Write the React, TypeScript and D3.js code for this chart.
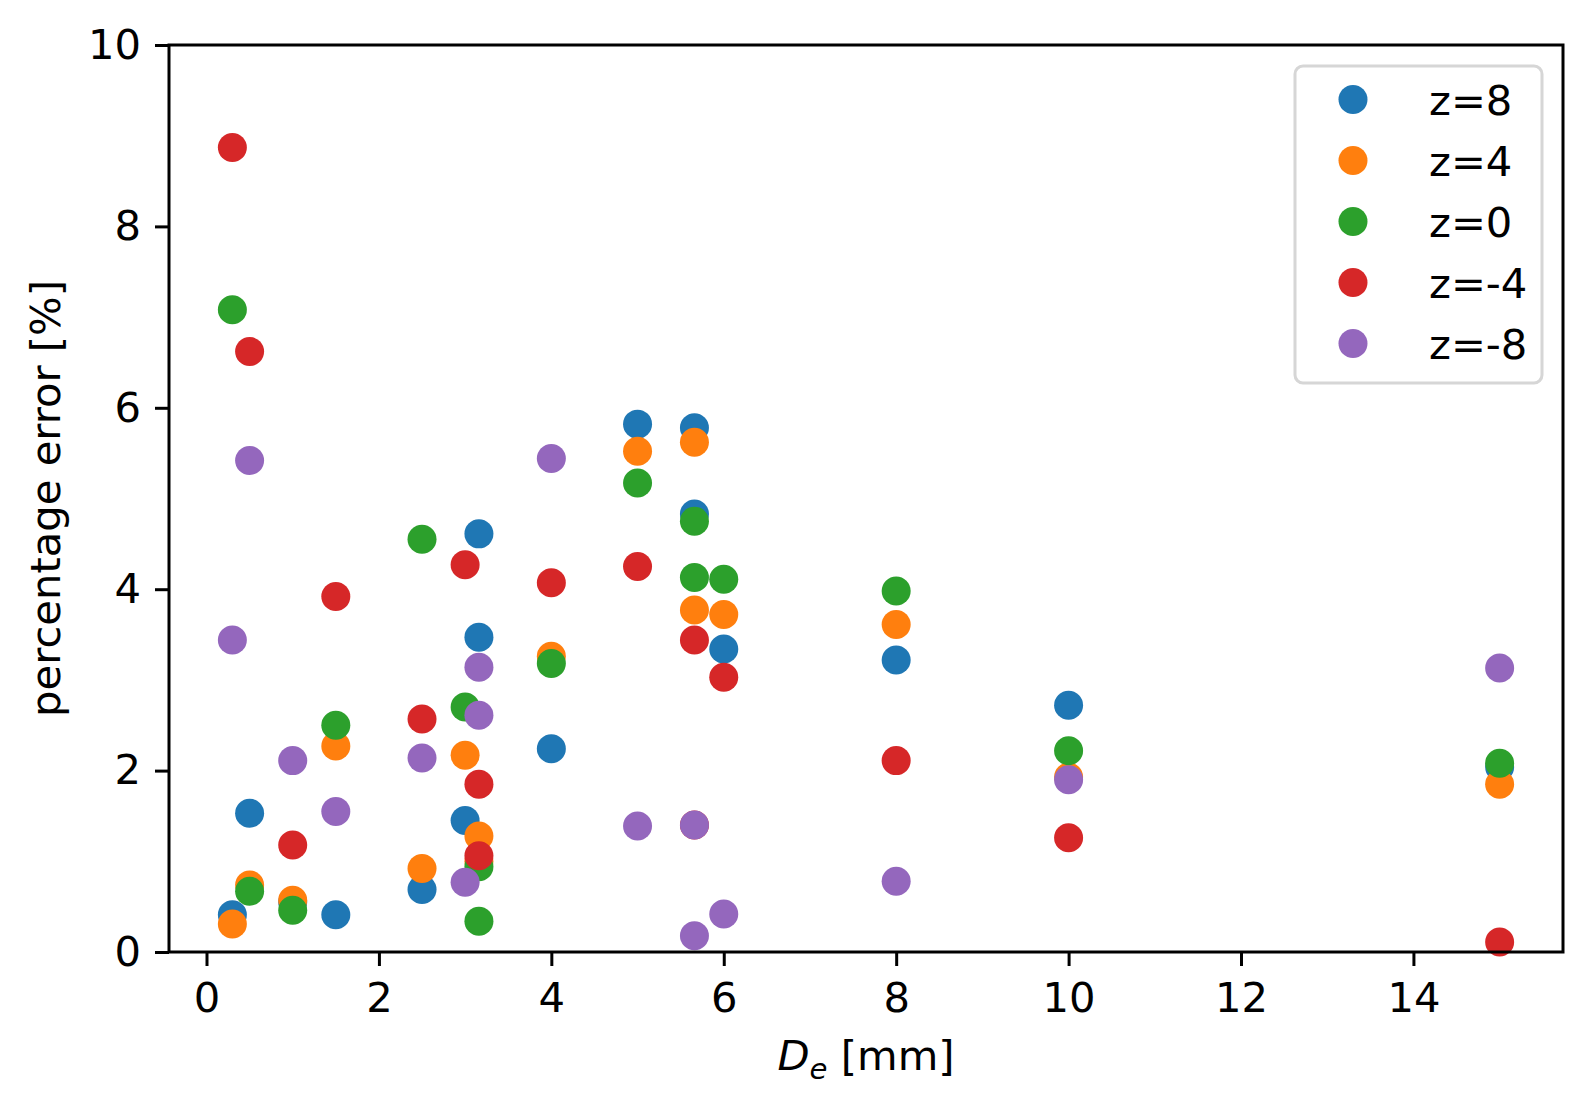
import { useRef, useEffect } from 'react';
import * as d3 from 'd3';

// D_e positions (mm); 3.16 and 5.66 appear twice in the source data
const deValues = [0.3, 0.5, 1, 1.5, 2.5, 3, 3.16, 3.16, 4, 5, 5.66, 5.66, 6, 8, 10, 15];

const z8 = [0.41, 1.53, 0.55, 0.41, 0.69, 1.45, 4.61, 3.47, 2.24, 5.82, 5.78, 4.83, 3.34, 3.22, 2.72, 2.04];
const z4 = [0.31, 0.74, 0.57, 2.27, 0.92, 2.17, 1.28, 1.0, 3.26, 5.52, 5.62, 3.77, 3.72, 3.61, 1.93, 1.85];
const z0 = [7.08, 0.67, 0.46, 2.5, 4.55, 2.7, 0.94, 0.34, 3.18, 5.17, 4.75, 4.13, 4.11, 3.98, 2.22, 2.08];
const zm4 = [8.87, 6.62, 1.18, 3.92, 2.57, 4.27, 1.85, 1.06, 4.07, 4.25, 3.44, 1.4, 3.03, 2.11, 1.26, 0.11];
const zm8 = [3.44, 5.42, 2.11, 1.55, 2.14, 0.77, 3.14, 2.61, 5.44, 1.39, 1.4, 0.18, 0.42, 0.78, 1.9, 3.13];

const seriesLabels = ['z=8', 'z=4', 'z=0', 'z=-4', 'z=-8'];
const seriesValues = [z8, z4, z0, zm4, zm8];
const seriesColors = ['#1f77b4', '#ff7f0e', '#2ca02c', '#d62728', '#9467bd'];

const xTicks = [0, 2, 4, 6, 8, 10, 12, 14];
const yTicks = [0, 2, 4, 6, 8, 10];

const WIDTH = 1593;
const HEIGHT = 1108;
const FONT = '"DejaVu Sans", sans-serif';
const FONT_SIZE = 41.7;

const App = () => {
  const svgRef = useRef<SVGSVGElement>(null);

  useEffect(() => {
    if (!svgRef.current) return;
    const svg = d3.select(svgRef.current);
    svg.selectAll('*').remove();

    const left = 169;
    const right = 1563;
    const top = 45;
    const bottom = 952;
    const tickLen = 14;

    // matplotlib-style 5% margins on x
    const xMin = d3.min(deValues) as number;
    const xMax = d3.max(deValues) as number;
    const pad = (xMax - xMin) * 0.05;
    const x = d3.scaleLinear().domain([xMin - pad, xMax + pad]).range([left, right]);
    const y = d3.scaleLinear().domain([0, 10]).range([bottom, top]);

    svg.append('rect').attr('width', WIDTH).attr('height', HEIGHT).attr('fill', '#fff');

    // points
    seriesValues.forEach((vals, i) => {
      svg.append('g')
        .selectAll('circle')
        .data(vals)
        .enter()
        .append('circle')
        .attr('cx', (_, j) => x(deValues[j]))
        .attr('cy', d => y(d))
        .attr('r', 14.5)
        .attr('fill', seriesColors[i]);
    });

    // x axis
    const xAxis = svg.append('g')
      .attr('transform', `translate(0, ${bottom})`)
      .call(d3.axisBottom(x).tickValues(xTicks).tickSize(tickLen).tickPadding(16).tickFormat(d => String(d)));
    xAxis.select('.domain').remove();
    xAxis.selectAll('line').attr('stroke', '#000').attr('stroke-width', 3);
    xAxis.selectAll('text')
      .attr('font-family', FONT)
      .attr('font-size', FONT_SIZE)
      .attr('fill', '#000');

    // y axis
    const yAxis = svg.append('g')
      .attr('transform', `translate(${left}, 0)`)
      .call(d3.axisLeft(y).tickValues(yTicks).tickSize(tickLen).tickPadding(14).tickFormat(d => String(d)));
    yAxis.select('.domain').remove();
    yAxis.selectAll('line').attr('stroke', '#000').attr('stroke-width', 3);
    yAxis.selectAll('text')
      .attr('font-family', FONT)
      .attr('font-size', FONT_SIZE)
      .attr('fill', '#000');

    // frame
    svg.append('rect')
      .attr('x', left)
      .attr('y', top)
      .attr('width', right - left)
      .attr('height', bottom - top)
      .attr('fill', 'none')
      .attr('stroke', '#000')
      .attr('stroke-width', 3);

    // x label
    const xl = svg.append('text')
      .attr('x', (left + right) / 2)
      .attr('y', 1070)
      .attr('text-anchor', 'middle')
      .attr('font-family', FONT)
      .attr('font-size', FONT_SIZE)
      .attr('fill', '#000');
    xl.append('tspan').attr('font-style', 'italic').text('D');
    xl.append('tspan').attr('font-style', 'italic').attr('font-size', FONT_SIZE * 0.7).attr('dy', 9).text('e');
    xl.append('tspan').attr('dy', -9).text(' [mm]');

    // y label
    svg.append('text')
      .attr('transform', `translate(60, ${(top + bottom) / 2}) rotate(-90)`)
      .attr('text-anchor', 'middle')
      .attr('font-family', FONT)
      .attr('font-size', FONT_SIZE)
      .attr('fill', '#000')
      .text('percentage error [%]');

    // legend
    const legend = svg.append('g');
    legend.append('rect')
      .attr('x', 1295)
      .attr('y', 66)
      .attr('width', 247)
      .attr('height', 317)
      .attr('rx', 8)
      .attr('fill', '#fff')
      .attr('fill-opacity', 0.8)
      .attr('stroke', '#d6d6d6')
      .attr('stroke-width', 3);
    seriesLabels.forEach((label, i) => {
      const cy = 99.5 + i * 61;
      legend.append('circle')
        .attr('cx', 1353)
        .attr('cy', cy)
        .attr('r', 14.5)
        .attr('fill', seriesColors[i]);
      legend.append('text')
        .attr('x', 1429)
        .attr('y', cy + 15)
        .attr('font-family', FONT)
        .attr('font-size', FONT_SIZE)
        .attr('fill', '#000')
        .text(label);
    });
  }, []);

  return (
    <div style={{ position: 'absolute', left: 0, top: 0 }}>
      <svg ref={svgRef} width={WIDTH} height={HEIGHT} style={{ display: 'block' }} />
    </div>
  );
};

export default App;
